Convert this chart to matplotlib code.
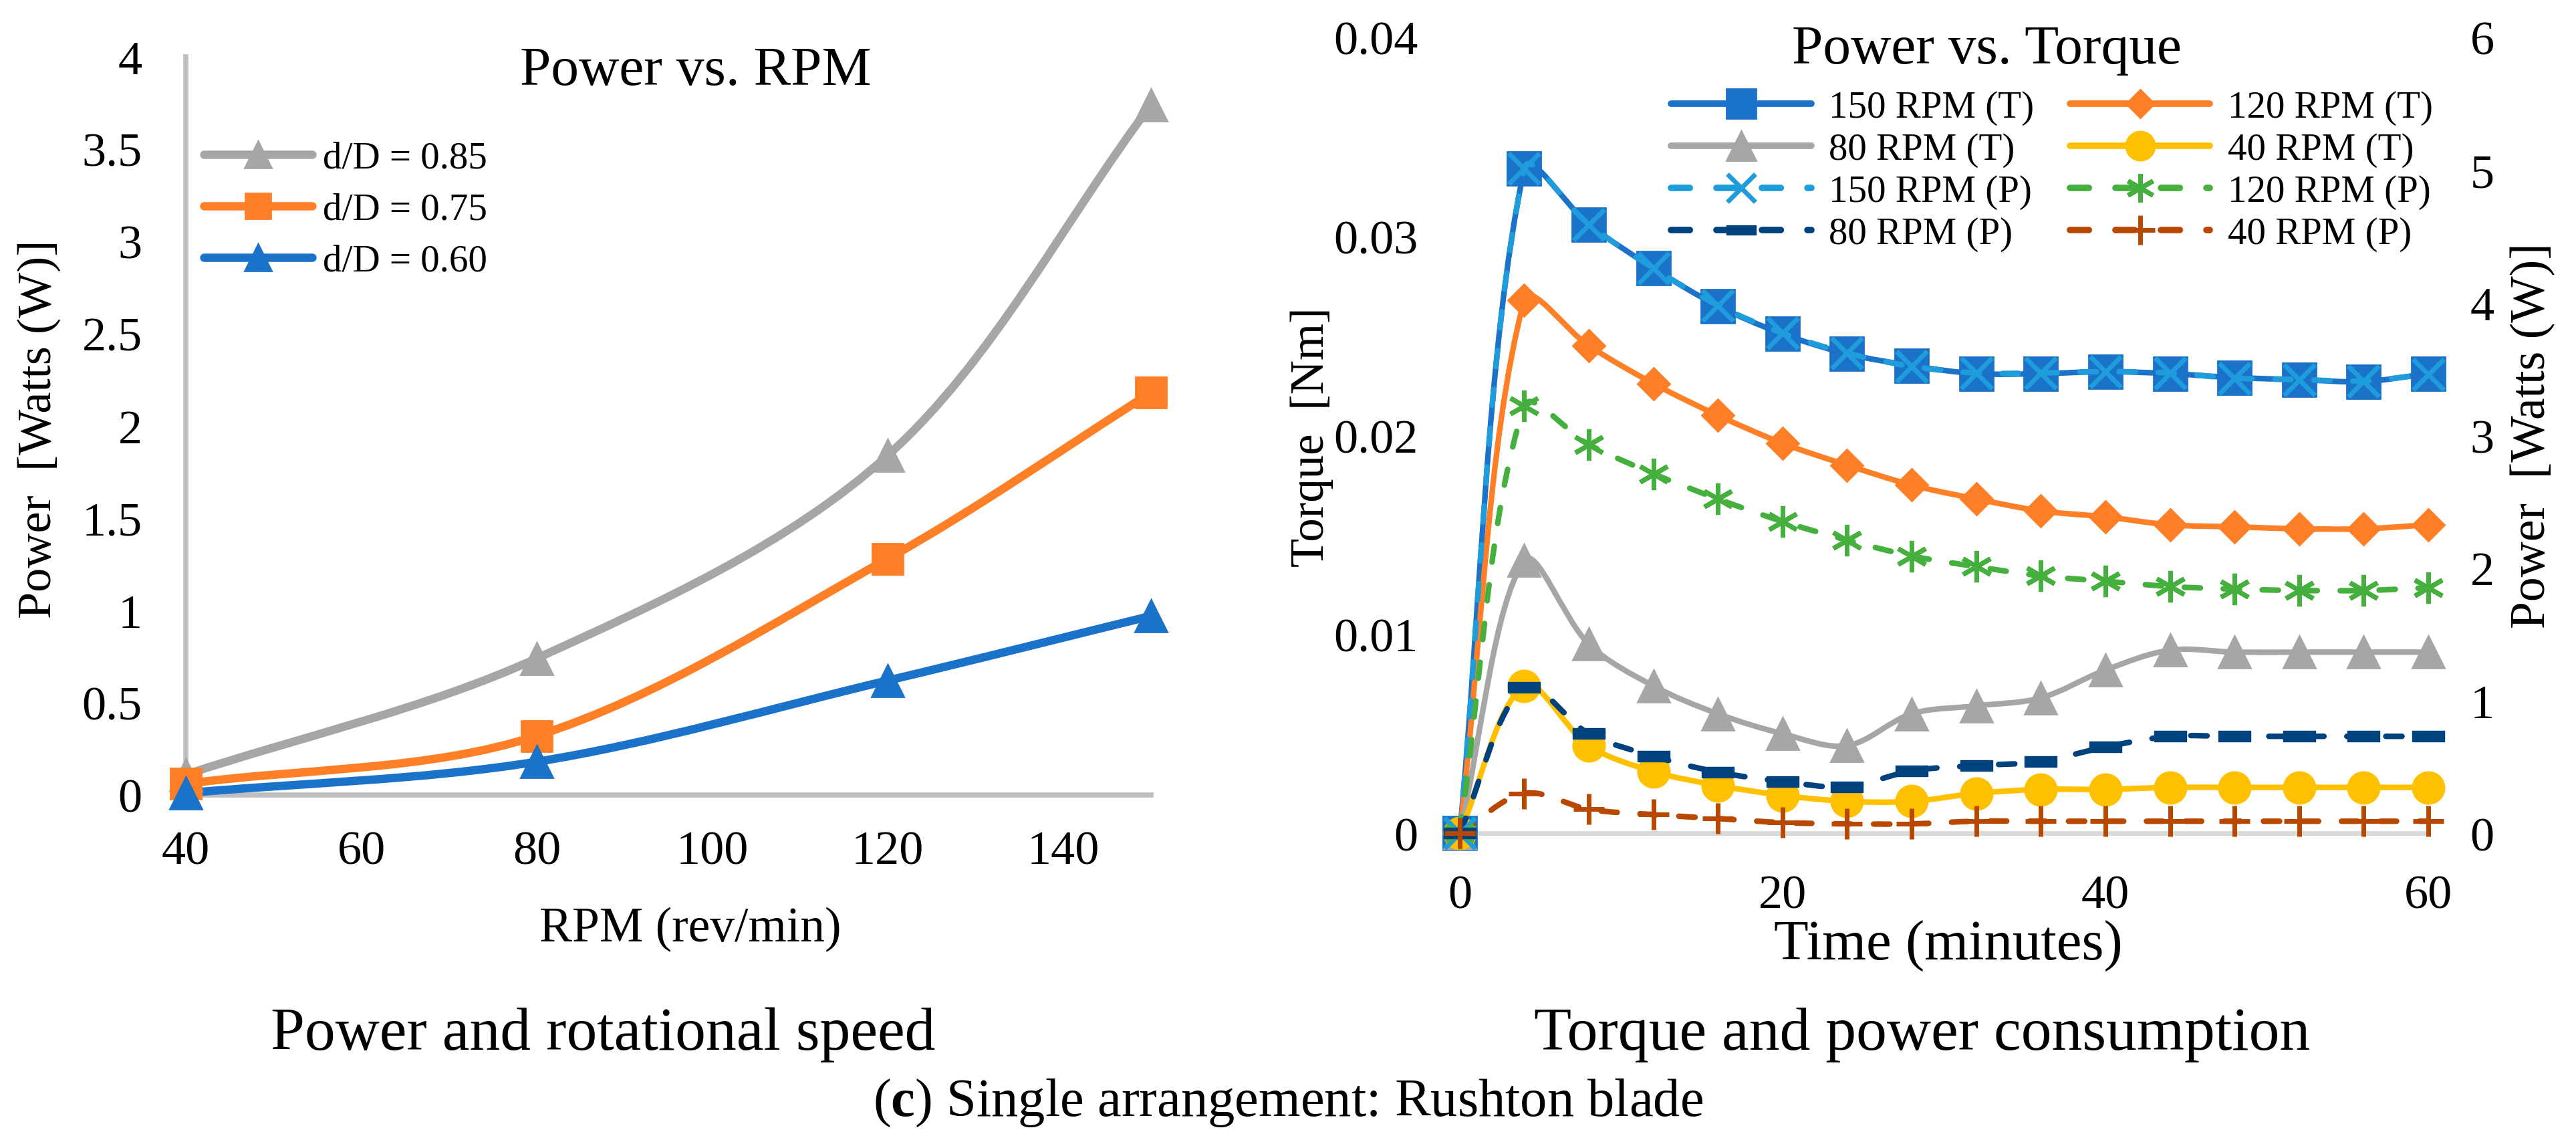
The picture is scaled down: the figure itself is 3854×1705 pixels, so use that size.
import numpy as np
import matplotlib
matplotlib.use("Agg")
import matplotlib.pyplot as plt
from matplotlib.path import Path
from matplotlib.patches import PathPatch
from matplotlib.lines import Line2D
from matplotlib.ticker import FuncFormatter

plt.rcParams['font.family'] = ['Liberation Serif', 'DejaVu Serif']
plt.rcParams['mathtext.fontset'] = 'custom'
plt.rcParams['mathtext.rm'] = 'Liberation Serif'
plt.rcParams['mathtext.bf'] = 'Liberation Serif:bold'

# left chart: power vs rpm for three d/D ratios
rpm = [40, 80, 120, 150]
power_085 = [0.11, 0.74, 1.84, 3.74]
power_075 = [0.06, 0.32, 1.28, 2.18]
power_060 = [0.01, 0.18, 0.62, 0.97]

# right chart: torque (Nm) and power (W) over time
time_min = [0, 4, 8, 12, 16, 20, 24, 28, 32, 36, 40, 44, 48, 52, 56, 60]
torque_150 = [0, 0.0334, 0.0306, 0.0284, 0.0265, 0.0251, 0.0241, 0.0235, 0.0231, 0.0231, 0.0232, 0.0231, 0.0229, 0.0228, 0.0227, 0.0231]
torque_120 = [0, 0.0268, 0.0245, 0.0226, 0.0210, 0.0196, 0.0185, 0.0175, 0.0168, 0.0162, 0.0159, 0.0155, 0.0154, 0.0153, 0.0153, 0.0155]
torque_80 = [0, 0.0137, 0.0095, 0.0074, 0.0060, 0.0050, 0.0044, 0.0060, 0.0064, 0.0068, 0.0082, 0.0092, 0.0091, 0.0091, 0.0091, 0.0091]
torque_40 = [0, 0.0074, 0.0044, 0.0031, 0.0024, 0.0019, 0.0016, 0.0016, 0.0020, 0.0022, 0.0022, 0.0023, 0.0023, 0.0023, 0.0023, 0.0023]
power_150 = [0, 5.01, 4.59, 4.26, 3.98, 3.77, 3.62, 3.52, 3.47, 3.47, 3.48, 3.47, 3.43, 3.42, 3.41, 3.46]
power_120 = [0, 3.22, 2.93, 2.71, 2.52, 2.35, 2.21, 2.09, 2.01, 1.94, 1.90, 1.86, 1.84, 1.83, 1.83, 1.85]
power_80 = [0, 1.10, 0.75, 0.58, 0.46, 0.39, 0.35, 0.47, 0.51, 0.54, 0.65, 0.73, 0.73, 0.73, 0.73, 0.73]
power_40 = [0, 0.30, 0.18, 0.14, 0.11, 0.08, 0.07, 0.07, 0.09, 0.09, 0.09, 0.09, 0.09, 0.09, 0.09, 0.09]

left_yticks = [0, 0.5, 1, 1.5, 2, 2.5, 3, 3.5, 4]
left_xticks = [40, 60, 80, 100, 120, 140]
torque_ticks = [0, 0.01, 0.02, 0.03, 0.04]
power_ticks = [0, 1, 2, 3, 4, 5, 6]
time_ticks = [0, 20, 40, 60]

GRAY = '#A6A6A6'
ORANGE = '#FF7F27'
BLUE = '#1B72C9'
YELLOW = '#FFC000'
LBLUE = '#1E9CDB'
GREEN = '#45B03D'
DBLUE = '#00427E'
BROWN = '#B84700'

dash_marker = [(-1, -0.32), (1, -0.32), (1, 0.32), (-1, 0.32), (-1, -0.32)]
star_marker = (6, 2, 0)


def smooth_path(ax, x, y):
    # excel style smoothed line: bezier control arms weighted by
    # the on-screen length of the neighbouring segments
    pts = np.column_stack([np.asarray(x, float), np.asarray(y, float)])
    pix = ax.transData.transform(pts)
    n = len(pts)
    seg = np.hypot(*np.diff(pix, axis=0).T)
    verts = [tuple(pts[0])]
    codes = [Path.MOVETO]
    for i in range(n - 1):
        p0 = pts[i - 1] if i > 0 else pts[i]
        p3 = pts[i + 2] if i + 2 < n else pts[i + 1]
        d01 = seg[i - 1] if i > 0 else 0.0
        d12 = seg[i]
        d23 = seg[i + 1] if i + 2 < n else 0.0
        fa = d12 / (d01 + d12) / 3 if d01 + d12 > 0 else 0
        fb = d12 / (d12 + d23) / 3 if d12 + d23 > 0 else 0
        c1 = pts[i] + (pts[i + 1] - p0) * fa
        c2 = pts[i + 1] - (p3 - pts[i]) * fb
        verts += [tuple(c1), tuple(c2), tuple(pts[i + 1])]
        codes += [Path.CURVE4] * 3
    return Path(verts, codes)


def draw_series(ax, x, y, color, lw, ls, marker, ms, mew=2, leg_ms=None, leg_lw=None, z=3):
    patch = PathPatch(smooth_path(ax, x, y), fill=False, edgecolor=color, lw=lw,
                      linestyle=ls, capstyle='round', joinstyle='round', zorder=z, clip_on=False)
    ax.add_patch(patch)
    ax.plot(x, y, ls='none', marker=marker, ms=ms, mfc=color, mec=color,
            mew=mew, zorder=z + 0.5, clip_on=False)
    return Line2D([], [], color=color, lw=leg_lw or lw, ls=ls, marker=marker,
                  ms=leg_ms or ms, mfc=color, mec=color, mew=mew,
                  solid_capstyle='round', dash_capstyle='round')


fig = plt.figure(figsize=(38.55, 17.06), dpi=100)

# ---- left: power vs rpm ----
ax1 = fig.add_axes([0.0721, 0.3025, 0.4467 - 0.0721, 0.9496 - 0.3025])
ax1.set_xlim(40, 150)
ax1.set_ylim(0, 4)
h85 = draw_series(ax1, rpm, power_085, GRAY, 9, '-', '^', 34, leg_ms=29)
h75 = draw_series(ax1, rpm, power_075, ORANGE, 9, '-', 's', 33, leg_ms=28)
h60 = draw_series(ax1, rpm, power_060, BLUE, 9, '-', '^', 34, leg_ms=29)
ax1.set_xticks(left_xticks)
ax1.set_yticks(left_yticks)
ax1.yaxis.set_major_formatter(FuncFormatter(lambda v, p: '%g' % v))
ax1.tick_params(length=0, labelsize=52)
ax1.tick_params(axis='y', pad=47)
ax1.tick_params(axis='x', pad=38)
for s in ['top', 'right']:
    ax1.spines[s].set_visible(False)
for s in ['left', 'bottom']:
    ax1.spines[s].set_color('#BFBFBF')
    ax1.spines[s].set_linewidth(5.5)
    ax1.spines[s].set_zorder(1)
ax1.legend([h85, h75, h60], ['d/D = 0.85', 'd/D = 0.75', 'd/D = 0.60'],
           loc='upper left', bbox_to_anchor=(0.0791, 0.876), bbox_transform=fig.transFigure,
           frameon=False, fontsize=41, handlelength=2.84, handletextpad=0.28,
           labelspacing=0.44, borderpad=0, borderaxespad=0, numpoints=1)

# ---- right: torque and power vs time ----
ax2 = fig.add_axes([0.5665, 0.269, 0.9424 - 0.5665, 0.9666 - 0.269])
ax3 = ax2.twinx()
ax2.set_xlim(0, 60)
ax2.set_ylim(0, 0.04)
ax3.set_ylim(0, 6)
t150 = draw_series(ax2, time_min, torque_150, BLUE, 6, '-', 's', 36, leg_ms=31, leg_lw=7)
t120 = draw_series(ax2, time_min, torque_120, ORANGE, 6, '-', 'D', 24, leg_ms=21, leg_lw=7)
t80 = draw_series(ax2, time_min, torque_80, GRAY, 6, '-', '^', 34, leg_ms=31, leg_lw=7)
t40 = draw_series(ax2, time_min, torque_40, YELLOW, 6, '-', 'o', 34, leg_ms=31, leg_lw=7)
dash = (0, (2.9, 4.1))
p150 = draw_series(ax3, time_min, power_150, LBLUE, 6, dash, 'x', 33, mew=5, leg_ms=30, leg_lw=7)
p120 = draw_series(ax3, time_min, power_120, GREEN, 6, dash, star_marker, 34, mew=5, leg_ms=31, leg_lw=7)
p80 = draw_series(ax3, time_min, power_80, DBLUE, 6, dash, dash_marker, 34, mew=1, leg_ms=31, leg_lw=7)
p40 = draw_series(ax3, time_min, power_40, BROWN, 6, dash, '+', 33, mew=5, leg_ms=31, leg_lw=7)

ax2.set_xticks(time_ticks)
ax2.set_yticks(torque_ticks)
ax3.set_yticks(power_ticks)
ax2.yaxis.set_major_formatter(FuncFormatter(lambda v, p: '%g' % v))
ax2.tick_params(length=0, labelsize=52)
ax2.tick_params(axis='y', pad=45)
ax2.tick_params(axis='x', pad=44)
ax3.tick_params(length=0, labelsize=52, pad=45)
for a in (ax2, ax3):
    for s in ['top', 'right', 'left']:
        a.spines[s].set_visible(False)
ax3.spines['bottom'].set_visible(False)
ax2.spines['bottom'].set_color('#D9D9D9')
ax2.spines['bottom'].set_linewidth(5)

handles = [t150, t120, t80, t40, p150, p120, p80, p40]
labels = ['150 RPM (T)', '120 RPM (T)', '80 RPM (T)', '40 RPM (T)',
          '150 RPM (P)', '120 RPM (P)', '80 RPM (P)', '40 RPM (P)']
# excel fills the legend row by row, matplotlib column by column
order = [0, 2, 4, 6, 1, 3, 5, 7]
ax3.legend([handles[i] for i in order], [labels[i] for i in order], ncol=2,
           loc='upper left', bbox_to_anchor=(0.6485, 0.9206), bbox_transform=fig.transFigure,
           frameon=False, fontsize=41, handlelength=3.68, handletextpad=0.46,
           labelspacing=0.19, columnspacing=0.95, borderpad=0, borderaxespad=0, numpoints=1)

# titles and axis labels
fig.text(0.270, 0.937, 'Power vs. RPM', fontsize=60, ha='center', va='center')
fig.text(0.771, 0.956, 'Power vs. Torque', fontsize=60, ha='center', va='center')
fig.text(0.015, 0.624, 'Power  [Watts (W)]', fontsize=52, rotation=90, ha='center', va='center')
fig.text(0.268, 0.185, 'RPM (rev/min)', fontsize=53, ha='center', va='center')
fig.text(0.509, 0.617, 'Torque  [Nm]', fontsize=51, rotation=90, ha='center', va='center')
fig.text(0.983, 0.618, 'Power  [Watts (W)]', fontsize=53, rotation=90, ha='center', va='center')
fig.text(0.756, 0.171, 'Time (minutes)', fontsize=61, ha='center', va='center')

# captions
fig.text(0.234, 0.093, 'Power and rotational speed', fontsize=66, ha='center', va='center')
fig.text(0.746, 0.093, 'Torque and power consumption', fontsize=66, ha='center', va='center')
fig.text(0.500, 0.033, r'($\mathbf{c}$) Single arrangement: Rushton blade', fontsize=58,
         ha='center', va='center')

fig.savefig('out.png', dpi=100)
